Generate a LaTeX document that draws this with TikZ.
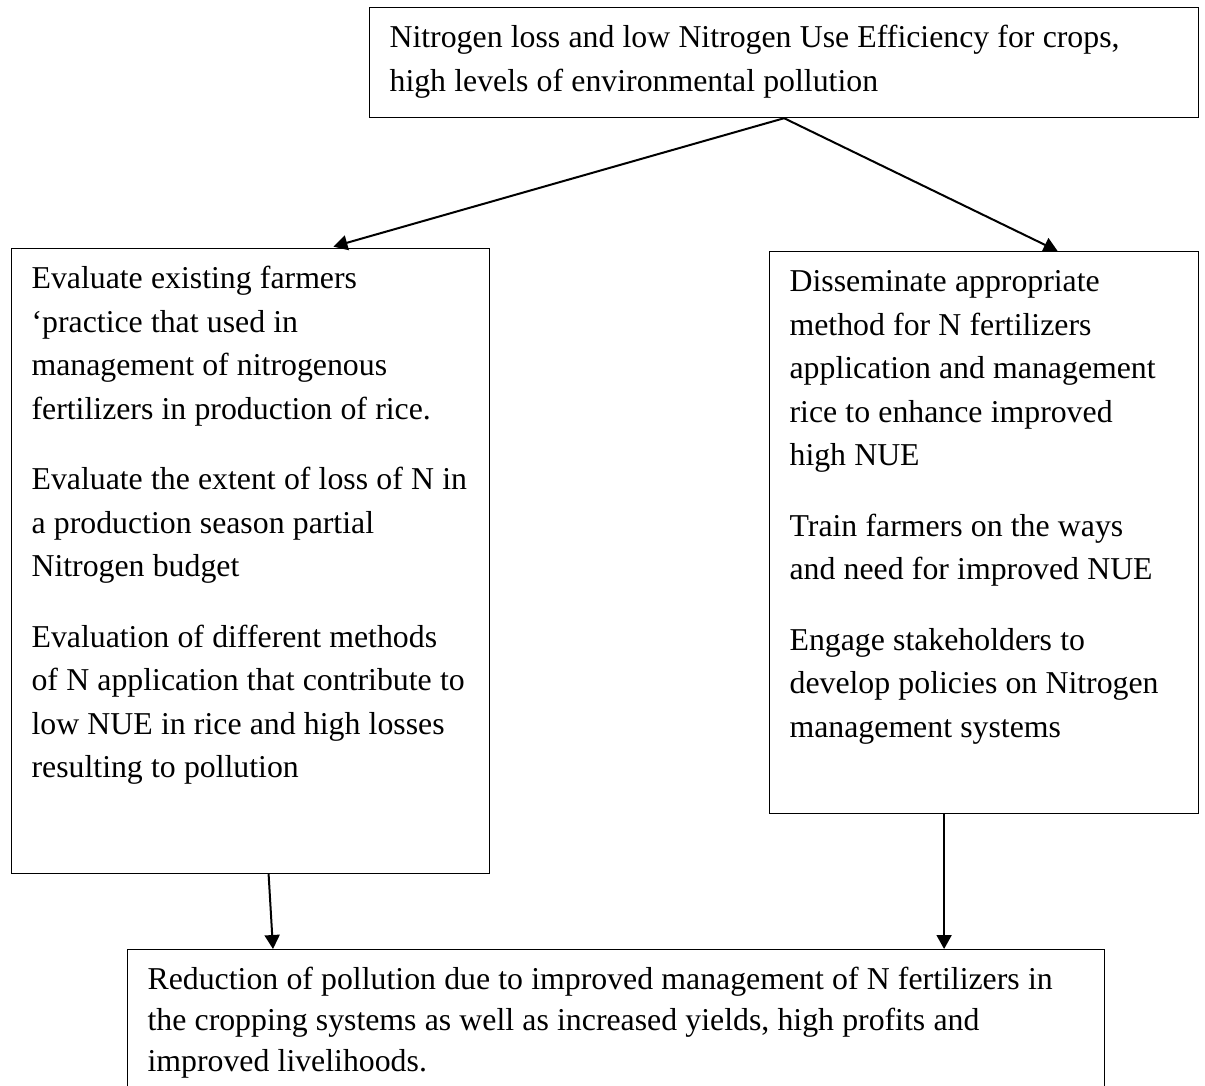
\documentclass[tikz,border=0pt]{standalone}
\usepackage{fontspec}
\setmainfont{Liberation Serif}
\usetikzlibrary{arrows.meta}

\begin{document}
\begin{tikzpicture}[x=0.5pt, y=-0.5pt,
  stage/.style={rectangle, draw, line width=0.6pt, anchor=north west, inner sep=0pt, text height=20pt, font=\fontsize{15.9}{21.75}\selectfont, execute at begin node={\leftskip=10pt\spaceskip=4.1pt}},
  flow/.style={-{Triangle[width=7.5pt, length=7pt]}, line width=1pt}]
\useasboundingbox (0,0) rectangle (1205,1086);

\node[stage, text width=414.5pt, text depth=35pt] (problem) at (369,7) {Nitrogen loss and low Nitrogen Use Efficiency for crops,\\ high levels of environmental pollution};
\node[stage, text width=239pt, text depth=292.5pt] (evaluate) at (11,248) {Evaluate existing farmers\\ ‘practice that used in\\ management of nitrogenous\\ fertilizers in production of rice.\\[13.5pt] Evaluate the extent of loss of N in\\ a production season partial\\ Nitrogen budget\\[13.5pt] Evaluation of different methods\\ of N application that contribute to\\ low NUE in rice and high losses\\ resulting to pollution};
\node[stage, text width=214.5pt, text depth=261pt] (disseminate) at (769,251) {Disseminate appropriate\\ method for N fertilizers\\ application and management\\ rice to enhance improved\\ high NUE\\[13.5pt] Train farmers on the ways\\ and need for improved NUE\\[13.5pt] Engage stakeholders to\\ develop policies on Nitrogen\\ management systems};
% bottom edge falls below the page
\node[stage, text width=488.5pt, text depth=60.5pt, font=\fontsize{15.9}{20.5}\selectfont] (outcome) at (127,949) {Reduction of pollution due to improved management of N fertilizers in\\ the cropping systems as well as increased yields, high profits and\\ improved livelihoods.};

\draw[flow, shorten >=2.5pt] (problem.south) -- ([xshift=39pt]evaluate.north);
\draw[flow] (problem.south) -- ([xshift=36.75pt]disseminate.north);
\draw[flow] ([xshift=9pt]evaluate.south) -- ([xshift=73pt]outcome.north west);
\draw[flow] ([xshift=-20pt]disseminate.south) -- ([xshift=-20pt]disseminate.south |- outcome.north);
\end{tikzpicture}
\end{document}
